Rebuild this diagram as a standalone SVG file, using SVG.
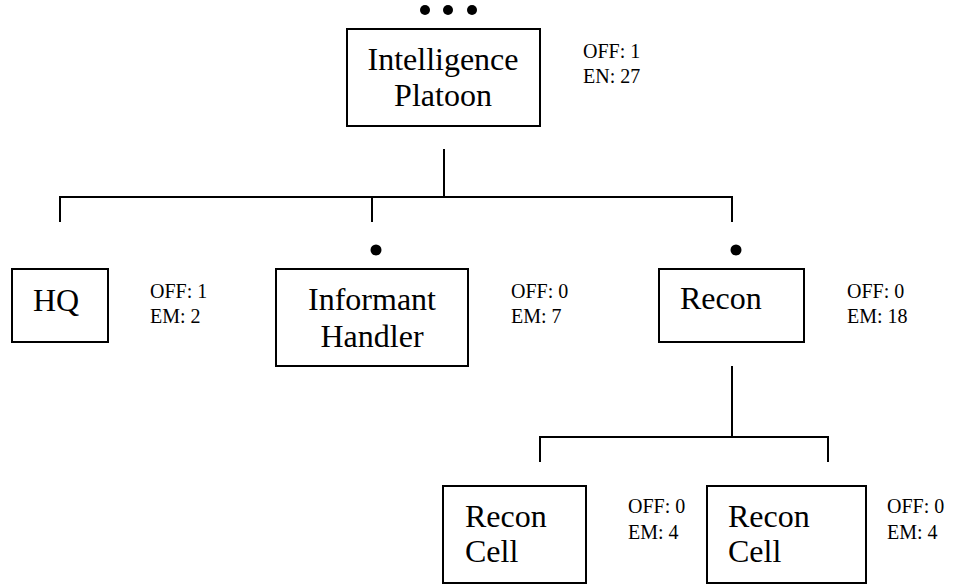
<svg xmlns="http://www.w3.org/2000/svg" width="961" height="584" viewBox="0 0 961 584">
<style>
.box{fill:#fff;stroke:#000;stroke-width:2}
.ln{fill:none;stroke:#000;stroke-width:2}
.big{font-family:"Liberation Serif","Times New Roman",serif;font-size:32px;fill:#000}
.sm{font-family:"Liberation Serif","Times New Roman",serif;font-size:20px;fill:#000}
.dot{fill:#000}
</style>
<rect width="961" height="584" fill="#fff"/>
<g id="connectors">
<path class="ln" d="M444 149V197M60 222V197H732V222M372 197V222"/>
<path class="ln" d="M732 366V437M540 462V437H828V462"/>
</g>
<g id="intelligence-platoon">
<circle class="dot" cx="425" cy="10" r="5"/>
<circle class="dot" cx="448" cy="10" r="5"/>
<circle class="dot" cx="472" cy="10" r="5"/>
<rect class="box" x="347" y="29" width="193" height="97"/>
<text class="big" x="443" y="70" text-anchor="middle">Intelligence</text>
<text class="big" x="443" y="106" text-anchor="middle">Platoon</text>
<text class="sm" x="583" y="58">OFF: 1</text>
<text class="sm" x="583" y="83">EN: 27</text>
</g>
<g id="hq">
<rect class="box" x="12" y="269" width="96" height="73"/>
<text class="big" x="56" y="311" text-anchor="middle">HQ</text>
<text class="sm" x="150" y="298">OFF: 1</text>
<text class="sm" x="150" y="323">EM: 2</text>
</g>
<g id="informant-handler">
<circle class="dot" cx="376" cy="250" r="5.5"/>
<rect class="box" x="276" y="269" width="192" height="97"/>
<text class="big" x="372" y="310" text-anchor="middle">Informant</text>
<text class="big" x="372" y="347" text-anchor="middle">Handler</text>
<text class="sm" x="511" y="298">OFF: 0</text>
<text class="sm" x="511" y="323">EM: 7</text>
</g>
<g id="recon">
<circle class="dot" cx="736" cy="250" r="5.5"/>
<rect class="box" x="659" y="269" width="145" height="73"/>
<text class="big" x="680" y="309">Recon</text>
<text class="sm" x="847" y="298">OFF: 0</text>
<text class="sm" x="847" y="323">EM: 18</text>
</g>
<g id="recon-cell-1">
<rect class="box" x="443" y="486" width="143" height="97"/>
<text class="big" x="465" y="527">Recon</text>
<text class="big" x="465" y="562">Cell</text>
<text class="sm" x="628" y="513">OFF: 0</text>
<text class="sm" x="628" y="539">EM: 4</text>
</g>
<g id="recon-cell-2">
<rect class="box" x="707" y="486" width="159" height="97"/>
<text class="big" x="728" y="527">Recon</text>
<text class="big" x="728" y="562">Cell</text>
<text class="sm" x="887" y="513">OFF: 0</text>
<text class="sm" x="887" y="539">EM: 4</text>
</g>
</svg>
